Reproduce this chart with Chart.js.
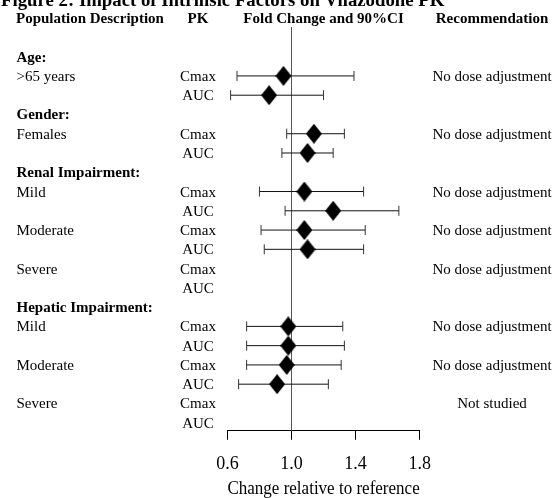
<!DOCTYPE html>
<html><head><meta charset="utf-8">
<script src="https://cdn.jsdelivr.net/npm/chart.js@4/dist/chart.umd.min.js"></script>
<style>html,body{margin:0;padding:0;background:#fff;}#wrap{width:554px;height:498px;position:relative;}</style>
</head><body><div id="wrap"><canvas id="c" width="554" height="498"></canvas></div>
<script>
// ---- data ----
const titleText = 'Figure 2: Impact of Intrinsic Factors on Vilazodone PK';
const columnHeaders = ['Population Description', 'PK', 'Fold Change and 90%CI', 'Recommendation'];
const groups = ['Age:', 'Gender:', 'Renal Impairment:', 'Hepatic Impairment:'];
const populations = ['>65 years', 'Females', 'Mild', 'Moderate', 'Severe', 'Mild', 'Moderate', 'Severe'];
const populationGroup = [0, 1, 2, 2, 2, 3, 3, 3];
const pkParams = ['Cmax', 'AUC'];
const recommendations = ['No dose adjustment', 'No dose adjustment', 'No dose adjustment', 'No dose adjustment',
  'No dose adjustment', 'No dose adjustment', 'No dose adjustment', 'Not studied'];
const cmaxRatio = [0.95, 1.14, 1.08, 1.08, null, 0.98, 0.97, null];
const cmaxLow   = [0.66, 0.97, 0.80, 0.81, null, 0.72, 0.72, null];
const cmaxHigh  = [1.39, 1.33, 1.45, 1.46, null, 1.32, 1.31, null];
const aucRatio  = [0.86, 1.10, 1.26, 1.10, null, 0.98, 0.91, null];
const aucLow    = [0.62, 0.94, 0.96, 0.83, null, 0.72, 0.67, null];
const aucHigh   = [1.20, 1.26, 1.67, 1.45, null, 1.33, 1.23, null];
const xTicks = [0.6, 1.0, 1.4, 1.8];
const referenceValue = 1.0;
const axisTitle = 'Change relative to reference';

// ---- build row layout ----
const rows = [];
const popRow = [];
let r = 0, lastG = -1;
populations.forEach((p, i) => {
  if (populationGroup[i] !== lastG) {
    rows.push({ kind: 'group', text: groups[populationGroup[i]], y: r });
    lastG = populationGroup[i];
    r++;
  }
  popRow.push(r);
  rows.push({ kind: 'pop', text: p, rec: recommendations[i], y: r });
  pkParams.forEach((pk, j) => rows.push({ kind: 'pk', text: pk, y: r + j }));
  r += 2;
});
const yTop = -1.54, yBottom = r - 1 + 0.42;

const ratios = [cmaxRatio, aucRatio], lows = [cmaxLow, aucLow], highs = [cmaxHigh, aucHigh];
const datasets = [];
datasets.push({
  type: 'line', data: [{ x: referenceValue, y: yTop }, { x: referenceValue, y: yBottom }],
  borderColor: '#555', borderWidth: 1, pointRadius: 0, order: 3
});
populations.forEach((p, i) => {
  pkParams.forEach((pk, j) => {
    if (ratios[j][i] == null) return;
    datasets.push({
      type: 'line', data: [{ x: lows[j][i], y: popRow[i] + j }, { x: highs[j][i], y: popRow[i] + j }],
      borderColor: '#111', borderWidth: 1, pointStyle: 'line', pointRotation: 90,
      pointRadius: 5, pointBorderColor: '#333', pointBorderWidth: 1, order: 2
    });
  });
});
const dia = document.createElement('canvas');
dia.width = 16; dia.height = 20;
const g = dia.getContext('2d');
g.beginPath(); g.moveTo(8, 0); g.lineTo(16, 10); g.lineTo(8, 20); g.lineTo(0, 10); g.closePath();
g.fillStyle = '#000'; g.fill();
const diamonds = [];
populations.forEach((p, i) => pkParams.forEach((pk, j) => {
  if (ratios[j][i] != null) diamonds.push({ x: ratios[j][i], y: popRow[i] + j });
}));
datasets.push({ type: 'scatter', data: diamonds, pointStyle: dia, pointRadius: 10, order: 1 });

const serif = 'Liberation Serif';
const textPlugin = {
  id: 'forestText',
  afterDraw(chart) {
    const ctx = chart.ctx, ys = chart.scales.y, xs = chart.scales.x;
    ctx.save();
    ctx.fillStyle = '#000';
    ctx.textBaseline = 'alphabetic';
    // title (partly cut off at the top)
    ctx.font = 'bold 18.8px "' + serif + '"';
    ctx.textAlign = 'left';
    ctx.fillText(titleText, 1, 6);
    // column headers
    const hy = ys.getPixelForValue(-2) + 5;
    ctx.font = 'bold 15px "' + serif + '"';
    ctx.textAlign = 'left'; ctx.fillText(columnHeaders[0], 16, hy);
    ctx.textAlign = 'center'; ctx.fillText(columnHeaders[1], 198, hy);
    ctx.fillText(columnHeaders[2], (xs.left + xs.right) / 2, hy);
    ctx.fillText(columnHeaders[3], 492, hy);
    rows.forEach(row => {
      const y = ys.getPixelForValue(row.y) + 5;
      if (row.kind === 'group') {
        ctx.font = 'bold 15px "' + serif + '"'; ctx.textAlign = 'left'; ctx.fillText(row.text, 16.5, y);
      } else if (row.kind === 'pop') {
        ctx.font = '15px "' + serif + '"'; ctx.textAlign = 'left'; ctx.fillText(row.text, 16.5, y);
        ctx.textAlign = 'center'; ctx.fillText(row.rec, 492, y);
      } else {
        ctx.font = '15px "' + serif + '"'; ctx.textAlign = 'center'; ctx.fillText(row.text, 198, y);
      }
    });
    ctx.restore();
  }
};

new Chart(document.getElementById('c'), {
  type: 'scatter',
  data: { datasets },
  options: {
    responsive: false, animation: false, devicePixelRatio: 1,
    layout: { padding: { left: 227.4, right: 134.3, top: 27, bottom: 0 } },
    plugins: { legend: { display: false }, tooltip: { enabled: false } },
    scales: {
      y: { type: 'linear', reverse: true, min: yTop, max: yBottom, display: false },
      x: {
        type: 'linear', min: 0.6, max: 1.8,
        afterBuildTicks: axis => { axis.ticks = xTicks.map(v => ({ value: v })); },
        ticks: { callback: v => Number(v).toFixed(1), font: { family: serif, size: 18 }, color: '#000', padding: 14, maxRotation: 0, autoSkip: false },
        grid: { display: true, drawOnChartArea: false, drawTicks: true, tickLength: 9, color: '#000', lineWidth: 1 },
        border: { display: true, color: '#000', width: 1 },
        title: { display: true, text: axisTitle, font: { family: serif, size: 18 }, color: '#000', padding: { top: -11, bottom: -2 } }
      }
    }
  },
  plugins: [textPlugin]
});
</script></body></html>
